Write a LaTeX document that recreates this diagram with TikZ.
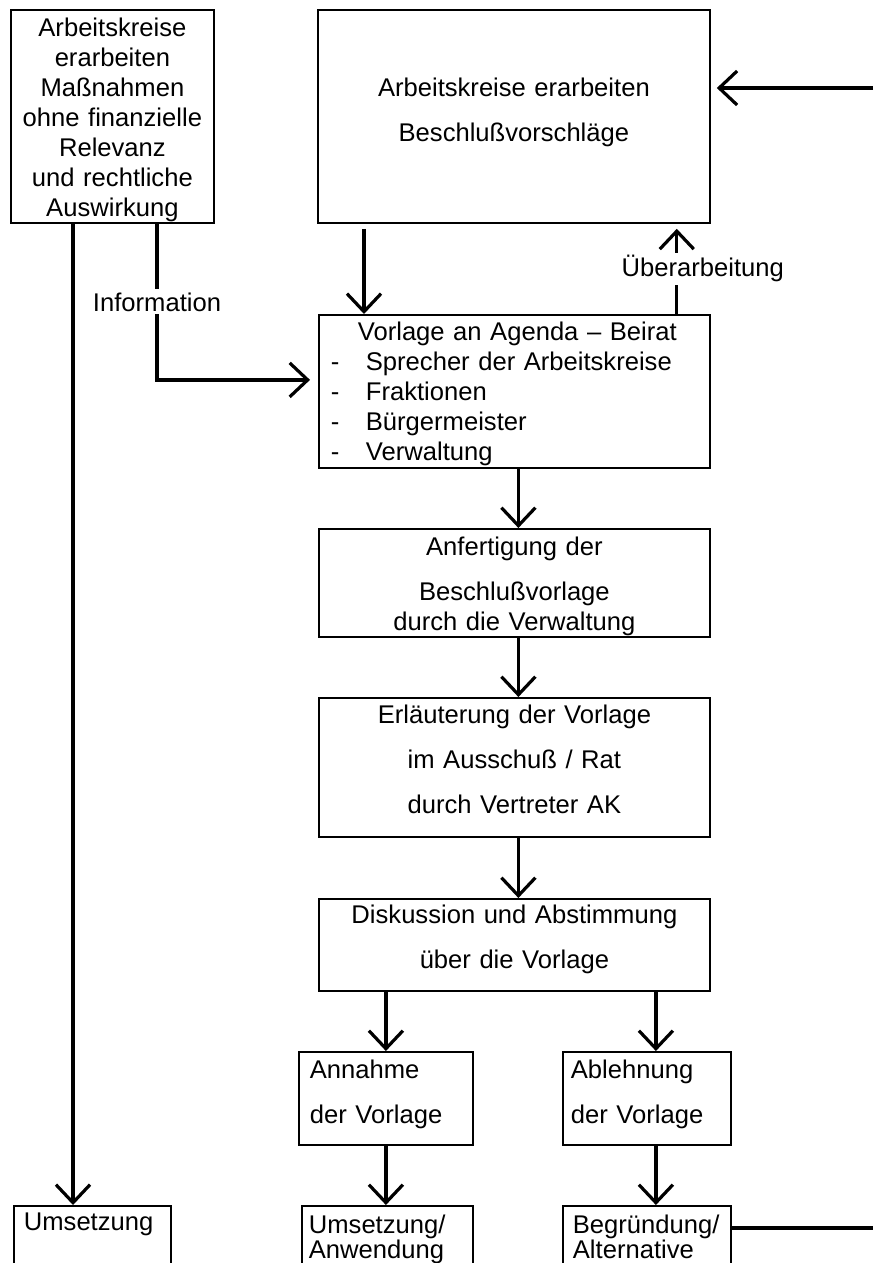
\documentclass[tikz,border=0pt]{standalone}
\usepackage{fontspec}
\setmainfont{Liberation Sans}
\usetikzlibrary{arrows.meta,positioning}
\newcommand{\boxfont}{\fontsize{12.8}{15}\selectfont}
\tikzset{
  fbox/.style={draw=black,line width=0.9pt,inner sep=0pt,anchor=north west,font=\boxfont},
  cbox/.style={fbox,align=center},
  lbox/.style={fbox,align=left},
  arr/.style={-{Straight Barb[length=9pt,width=17pt]},line width=1.6pt},
  conn/.style={line width=1.6pt},
  lbl/.style={fill=white,inner sep=1.5pt,font=\boxfont},
}
\begin{document}
\begin{tikzpicture}[x=0.5pt,y=-0.5pt]
    \useasboundingbox (0,0) rectangle (873,1263);
    \fill[white] (0,0) rectangle (873,1263);
    \clip (0,0) rectangle (873,1263);
    \node[cbox,text width=101.5pt,text height=13.5pt,text depth=93pt] (k1) at (10,9) {Arbeitskreise\\erarbeiten\\Maßnahmen\\ohne finanzielle\\Relevanz\\und rechtliche\\Auswirkung};
    \node[cbox,text width=196pt,text height=43.5pt,text depth=63pt] (k2) at (317,9) {Arbeitskreise erarbeiten\\[7.5pt]Beschlußvorschläge};
    \node[lbox,inner xsep=6pt,text width=183.5pt,text height=13pt,text depth=63.5pt] (beirat) at (318,314) {\hspace*{13.5pt}Vorlage an Agenda – Beirat\\\makebox[17.5pt][l]{-}Sprecher der Arbeitskreise\\\makebox[17.5pt][l]{-}Fraktionen\\\makebox[17.5pt][l]{-}Bürgermeister\\\makebox[17.5pt][l]{-}Verwaltung};
    \node[cbox,text width=195.5pt,text height=13.5pt,text depth=40.5pt] (vorlage) at (318,528) {Anfertigung der\\[7.5pt]Beschlußvorlage\\durch die Verwaltung};
    \node[cbox,text width=195.5pt,text height=13pt,text depth=56.5pt] (rat) at (318,697) {Erläuterung der Vorlage\\[7.5pt]im Ausschuß / Rat\\[7.5pt]durch Vertreter AK};
    \node[cbox,text width=195.5pt,text height=12.5pt,text depth=33.5pt] (abst) at (318,898) {Diskussion und Abstimmung\\[7.5pt]über die Vorlage};
    \node[lbox,inner xsep=5.5pt,text width=76pt,text height=13.5pt,text depth=33pt] (annahme) at (298,1051) {Annahme\\[7.5pt]der Vorlage};
    \node[lbox,inner xsep=4pt,text width=76pt,text height=13.5pt,text depth=33pt] (ablehnung) at (562,1051) {Ablehnung\\[7.5pt]der Vorlage};
    \node[lbox,inner xsep=5pt,text width=68.5pt,text height=12.5pt,text depth=40pt] (umsetzung) at (13,1205) {Umsetzung};
    \node[lbox,inner xsep=3.5pt,text width=78.5pt,text height=14pt,text depth=40pt] (anwendung) at (301,1205) {Umsetzung/\\[-2.5pt]Anwendung};
    \node[lbox,inner xsep=5pt,text width=74pt,text height=14pt,text depth=40pt] (begruendung) at (562,1205) {Begründung/\\[-2.5pt]Alternative};
    \coordinate (rin) at (873,88);
    \coordinate (rout) at (873,1228);
    \coordinate (lft) at ([xshift=31.5pt]k1.south west);
    \coordinate (ab) at ([xshift=4.5pt]ablehnung.north);
    \draw[arr,shorten >=3pt] (rin) -- (rin -| k2.east);
    \draw[arr,shorten <=2.5pt] ([xshift=23.5pt]k2.south west) -- ([xshift=23pt]beirat.north west);
    \draw[arr,shorten >=2.5pt] ([xshift=-17pt]beirat.north east) -- ([xshift=-17pt]k2.south east) node[lbl,midway,xshift=13pt] {Überarbeitung};
    \draw[arr,shorten >=4pt] ([xshift=73.5pt]k1.south west) |- ([yshift=5.75pt]beirat.west) node[lbl,pos=0.25] {Information};
    \draw[arr] (lft) -- (lft |- umsetzung.north);
    \draw[arr] ([xshift=2pt]beirat.south) -- ([xshift=2pt]vorlage.north);
    \draw[arr] ([xshift=2pt]vorlage.south) -- ([xshift=2pt]rat.north);
    \draw[arr] ([xshift=2pt]rat.south) -- ([xshift=2pt]abst.north);
    \draw[arr] (annahme.north |- abst.south) -- (annahme.north);
    \draw[arr] (ab |- abst.south) -- (ab);
    \draw[arr] (annahme.south) -- (annahme.south |- anwendung.north);
    \draw[arr] ([xshift=4.5pt]ablehnung.south) -- ([xshift=4.5pt]begruendung.north);
    \draw[conn] (rout -| begruendung.east) -- (rout);
  \end{tikzpicture}
\end{document}
